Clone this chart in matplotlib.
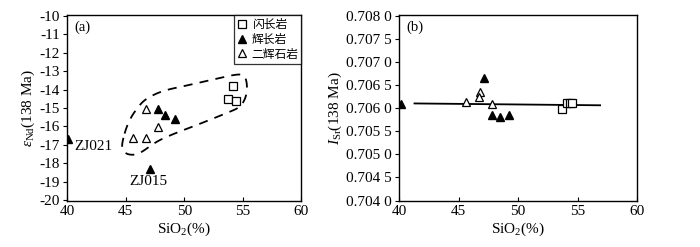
import numpy as np
import matplotlib.pyplot as plt
from matplotlib.patches import Polygon

plt.rcParams['font.family'] = ['Liberation Serif', 'Noto Sans CJK SC', 'DejaVu Sans']
plt.rcParams['mathtext.fontset'] = 'custom'
plt.rcParams['mathtext.rm'] = 'Liberation Serif'
plt.rcParams['mathtext.it'] = 'Liberation Serif:italic'
plt.rcParams['axes.unicode_minus'] = False

# (a) eNd(138 Ma) vs SiO2
dio_si = [54.2, 53.7, 54.4]
dio_nd = [-13.8, -14.5, -14.6]
gab_si = [40.1, 47.1, 47.8, 48.4, 49.2]
gab_nd = [-16.7, -18.3, -15.05, -15.35, -15.6]
pyr_si = [46.7, 47.8, 45.6, 46.7]
pyr_nd = [-15.05, -16.05, -16.6, -16.6]

# dashed field outline
field_si = [44.67, 45.23, 46.22, 46.93, 48.2, 50.18, 52.73, 54.71, 55.22, 55.39,
            55.22, 54.71, 53.86, 51.32, 49.05, 47.64, 46.37, 45.8, 45.09, 44.75]
field_nd = [-16.91, -15.71, -14.79, -14.42, -14.05, -13.78, -13.41, -13.13, -13.28, -13.87,
            -14.51, -14.97, -15.21, -15.86, -16.41, -16.81, -17.4, -17.55, -17.51, -17.27]

# (b) ISr(138 Ma) vs SiO2
dio_si_b = [53.7, 54.15, 54.33, 54.5]
dio_sr = [0.70598, 0.70611, 0.70611, 0.70611]
gab_si_b = [40.2, 47.15, 47.85, 48.5, 49.25]
gab_sr = [0.70608, 0.70664, 0.70585, 0.70581, 0.70584]
pyr_si_b = [45.65, 46.8, 46.75, 47.85]
pyr_sr = [0.70614, 0.70635, 0.70624, 0.70609]
fit_si = [41.3, 56.9]
fit_sr = [0.70610, 0.70606]


def chaikin(pts, n=3):
    # corner cutting to round off the hand-drawn outline
    for _ in range(n):
        nxt = np.roll(pts, -1, axis=0)
        q = 0.75 * pts + 0.25 * nxt
        r = 0.25 * pts + 0.75 * nxt
        pts = np.empty((2 * len(pts), 2))
        pts[0::2] = q
        pts[1::2] = r
    return pts


fig = plt.figure(figsize=(7.0, 2.47), dpi=100)
ax1 = fig.add_axes([0.0957, 0.186, 0.335, 0.753])
ax2 = fig.add_axes([0.570, 0.186, 0.340, 0.753])

ms = 6
fs = 11
ax1.plot(dio_si, dio_nd, 's', mfc='white', mec='black', mew=0.9, ms=ms, label='闪长岩')
ax1.plot(gab_si, gab_nd, '^', mfc='black', mec='black', ms=ms, label='辉长岩')
ax1.plot(pyr_si, pyr_nd, '^', mfc='white', mec='black', mew=0.9, ms=ms, label='二辉石岩')
outline = chaikin(np.column_stack([field_si, field_nd]))
ax1.add_patch(Polygon(outline, closed=True, fill=False,
                      ls=(0, (5, 4)), lw=1.3, ec='black'))
ax1.text(40.6, -17.1, 'ZJ021', fontsize=fs, va='center')
ax1.text(46.9, -19.0, 'ZJ015', fontsize=fs, ha='center', va='center')
ax1.text(0.03, 0.97, '(a)', transform=ax1.transAxes, fontsize=10.5, va='top')
ax1.set_xlim(40, 60)
ax1.set_ylim(-20.05, -9.95)
ax1.set_xticks([40, 45, 50, 55, 60])
ax1.set_yticks(np.arange(-20, -9, 1))
ax1.set_xlabel('SiO$_2$(%)', fontsize=fs, labelpad=2)
ax1.set_ylabel(r'$\varepsilon_{\rm Nd}$(138 Ma)', fontsize=fs, labelpad=2)
leg = ax1.legend(loc='upper right', frameon=True, fancybox=False,
                 handlelength=0.8, handletextpad=0.4, borderpad=0.25, labelspacing=0.15,
                 borderaxespad=0.0, prop={'family': ['Noto Sans CJK SC'], 'size': 8.5})
leg.get_frame().set_edgecolor('black')
leg.get_frame().set_linewidth(0.9)

ax2.plot(fit_si, fit_sr, '-', color='black', lw=1.3)
ax2.plot(dio_si_b, dio_sr, 's', mfc='white', mec='black', mew=0.9, ms=ms)
ax2.plot(gab_si_b, gab_sr, '^', mfc='black', mec='black', ms=ms)
ax2.plot(pyr_si_b, pyr_sr, '^', mfc='white', mec='black', mew=0.9, ms=ms)
ax2.text(0.03, 0.97, '(b)', transform=ax2.transAxes, fontsize=10.5, va='top')
ax2.set_xlim(40, 60)
ax2.set_ylim(0.70399, 0.70801)
ax2.set_xticks([40, 45, 50, 55, 60])
yt = np.arange(0.7040, 0.70801, 0.0005)
ax2.set_yticks(yt)
ax2.set_yticklabels(['%.3f %d' % (v - (round(v * 10000) % 10) / 10000, round(v * 10000) % 10) for v in yt])
ax2.set_xlabel('SiO$_2$(%)', fontsize=fs, labelpad=2)
ax2.set_ylabel(r'$I_{\rm Sr}$(138 Ma)', fontsize=fs, labelpad=2)

for ax in (ax1, ax2):
    for s in ax.spines.values():
        s.set_linewidth(1.0)
    ax.tick_params(axis='x', direction='in', length=3, labelsize=fs, pad=3)
    ax.tick_params(axis='y', direction='out', length=3, labelsize=fs, pad=2)

fig.savefig('out.png', dpi=100)
